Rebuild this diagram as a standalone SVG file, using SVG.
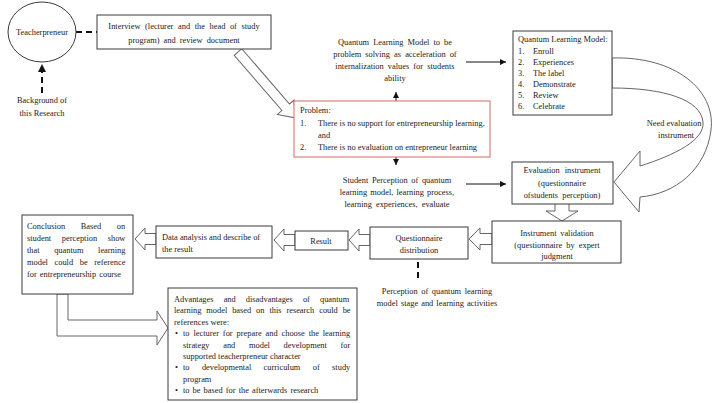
<svg xmlns="http://www.w3.org/2000/svg" width="716" height="403" viewBox="0 0 716 403">
<style>
.box{fill:#fff;stroke:#3a3a3a;stroke-width:1}
.red{fill:#fff;stroke:#e06666;stroke-width:1}
.t{font-family:"Liberation Serif","Times New Roman",serif;font-size:8.4px;fill:#222}
.c{text-anchor:middle}
.hollow{fill:#fff;stroke:#666;stroke-width:1}
.ln{stroke:#111;stroke-width:1;fill:none}
.dash{stroke:#111;stroke-width:2;stroke-dasharray:6 4;fill:none}
</style>
<defs>
<marker id="ah" markerWidth="8" markerHeight="8" refX="6" refY="3" orient="auto" markerUnits="userSpaceOnUse">
<path d="M0,0 L6,3 L0,6 Z" fill="#111"/>
</marker>
</defs>
<rect width="716" height="403" fill="#fff"/>

<g id="connectors">
<line class="dash" x1="76" y1="32" x2="97" y2="32"/>
<line class="dash" x1="42" y1="93" x2="42" y2="72"/>
<path d="M38,72 L42,64 L46,72 Z" fill="#111"/>
<polygon class="hollow" transform="translate(238,52) rotate(49.2)" points="0,-5 73,-5 73,-11 87,0 73,11 73,5 0,5"/>
<line class="ln" x1="396" y1="101" x2="396" y2="92" marker-end="url(#ah)"/>
<line class="ln" x1="466" y1="62" x2="506" y2="62" marker-end="url(#ah)"/>
<line class="ln" x1="396" y1="157" x2="396" y2="165" marker-end="url(#ah)"/>
<line class="ln" x1="466" y1="184" x2="506" y2="184" marker-end="url(#ah)"/>
<path class="hollow" d="M612,58 C675,56 716,90 711,130 C706,170 675,194 640,197 L639,212 L614,182 L640,151 L640,166 C675,155 705,140 703,122 C701,100 665,88 612,88 Z"/>
<polygon class="hollow" points="555,203 569,203 569,211 578,211 562,221 546,211 555,211"/>
<polygon class="hollow" points="492,233.5 480,233.5 480,228 469,239 480,250 480,244.5 492,244.5"/>
<line class="dash" x1="418" y1="262" x2="418" y2="282"/>
<polygon class="hollow" points="370,234.5 359,234.5 359,229 349,240 359,251 359,245.5 370,245.5"/>
<polygon class="hollow" points="295,234.5 284,234.5 284,229 274,240 284,251 284,245.5 295,245.5"/>
<polygon class="hollow" points="156,233.5 145,233.5 145,228 135,239 145,250 145,244.5 156,244.5"/>
<polygon class="hollow" points="57,294 57,336 157,336 157,345 168,328 157,311 157,320 68,320 68,294"/>
</g>

<g id="teacherpreneur">
<ellipse cx="42" cy="32" rx="34" ry="30" fill="#fff" stroke="#3a3a3a"/>
<text class="t c" x="42" y="35">Teacherpreneur</text>
</g>

<g id="background">
<text class="t c" x="42" y="103">Background of</text>
<text class="t c" x="42" y="116">this Research</text>
</g>

<g id="interview">
<rect class="box" x="97" y="15" width="174" height="34"/>
<text class="t c" x="184" y="29" word-spacing="2.5">Interview (lecturer and the head of study</text>
<text class="t c" x="184" y="43" word-spacing="2">program) and review document</text>
</g>

<g id="problem">
<rect class="red" x="294" y="101" width="196" height="56"/>
<text class="t" x="300" y="113">Problem:</text>
<text class="t" x="300" y="126">1.</text>
<text class="t" x="318" y="126">There is no support for entrepreneurship learning,</text>
<text class="t" x="318" y="138">and</text>
<text class="t" x="300" y="150">2.</text>
<text class="t" x="318" y="150">There is no evaluation on entrepreneur learning</text>
</g>

<g id="qlm-purpose">
<text class="t c" x="395" y="45" word-spacing="2">Quantum Learning Model to be</text>
<text class="t c" x="395" y="57" word-spacing="2">problem solving as acceleration of</text>
<text class="t c" x="395" y="69" word-spacing="2">internalization values for students</text>
<text class="t c" x="395" y="81">ability</text>
</g>

<g id="qlm">
<rect class="box" x="513" y="31" width="99" height="84"/>
<text class="t" x="518" y="42">Quantum Learning Model:</text>
<text class="t" x="518" y="54">1.</text><text class="t" x="533" y="54">Enroll</text>
<text class="t" x="518" y="65">2.</text><text class="t" x="533" y="65">Experiences</text>
<text class="t" x="518" y="76">3.</text><text class="t" x="533" y="76">The label</text>
<text class="t" x="518" y="87">4.</text><text class="t" x="533" y="87">Demonstrate</text>
<text class="t" x="518" y="98">5.</text><text class="t" x="533" y="98">Review</text>
<text class="t" x="518" y="109">6.</text><text class="t" x="533" y="109">Celebrate</text>
</g>

<g id="need-label">
<text class="t c" x="674" y="126">Need evaluation</text>
<text class="t c" x="676" y="138">instrument</text>
</g>

<g id="student-perception">
<text class="t c" x="397" y="183" word-spacing="1.5">Student Perception of quantum</text>
<text class="t c" x="397" y="195" word-spacing="1">learning model, learning process,</text>
<text class="t c" x="397" y="207" word-spacing="2">learning experiences, evaluate</text>
</g>

<g id="evaluation">
<rect class="box" x="512" y="162" width="101" height="42"/>
<text class="t c" x="562" y="173" word-spacing="3">Evaluation instrument</text>
<text class="t c" x="562" y="186">(questionnaire</text>
<text class="t c" x="562" y="198" word-spacing="2">ofstudents perception)</text>
</g>

<g id="validation">
<rect class="box" x="492" y="221" width="129" height="42"/>
<text class="t c" x="557" y="236" word-spacing="1.5">Instrument validation</text>
<text class="t c" x="557" y="248" word-spacing="2">(questionnaire by expert</text>
<text class="t c" x="557" y="259">judgment</text>
</g>

<g id="questionnaire">
<rect class="box" x="370" y="227" width="98" height="32"/>
<text class="t c" x="419" y="241">Questionnaire</text>
<text class="t c" x="419" y="253">distribution</text>
</g>

<g id="perception-stage">
<text class="t c" x="437" y="294" word-spacing="1.5">Perception of quantum learning</text>
<text class="t c" x="437" y="306" word-spacing="1">model stage and learning activities</text>
</g>

<g id="result">
<rect class="box" x="295" y="231" width="53" height="19"/>
<text class="t c" x="321" y="244">Result</text>
</g>

<g id="data-analysis">
<rect class="box" x="156" y="226" width="116" height="32"/>
<text class="t" x="162" y="240">Data analysis and describe of</text>
<text class="t" x="162" y="252">the result</text>
</g>

<g id="conclusion">
<rect class="box" x="22" y="215" width="111" height="79"/>
<text class="t" x="27" y="229" word-spacing="13.5">Conclusion Based on</text>
<text class="t" x="27" y="241" word-spacing="8.5">student perception show</text>
<text class="t" x="27" y="253" word-spacing="12.5">that quantum learning</text>
<text class="t" x="27" y="265" word-spacing="4.5">model could be reference</text>
<text class="t" x="27" y="277" word-spacing="1">for entrepreneurship course</text>
</g>

<g id="advantages">
<rect class="box" x="168" y="288" width="189" height="112"/>
<text class="t" x="174" y="302" word-spacing="8">Advantages and disadvantages of quantum</text>
<text class="t" x="174" y="313.4" word-spacing="2.8">learning model based on this research could be</text>
<text class="t" x="174" y="324.8">references were:</text>
<text class="t" x="175" y="336.2">•</text>
<text class="t" x="183" y="336.2" word-spacing="1.8">to lecturer for prepare and choose the learning</text>
<text class="t" x="183" y="347.6" word-spacing="11.6">strategy and model development for</text>
<text class="t" x="183" y="359">supported teacherpreneur character</text>
<text class="t" x="175" y="370.4">•</text>
<text class="t" x="183" y="370.4" word-spacing="10.3">to developmental curriculum of study</text>
<text class="t" x="183" y="381.8">program</text>
<text class="t" x="175" y="393.2">•</text>
<text class="t" x="183" y="393.2" word-spacing="1">to be based for the afterwards research</text>
</g>
</svg>
